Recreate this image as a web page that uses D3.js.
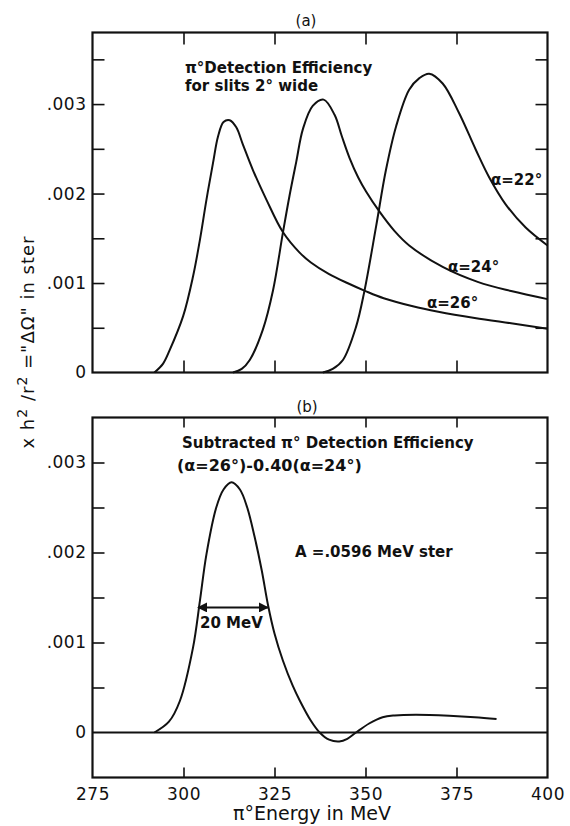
<!DOCTYPE html>
<html>
<head>
<meta charset="utf-8">
<script src="https://cdn.jsdelivr.net/npm/d3@7"></script>
<style>
	body { margin: 0; background: #fff; }
	svg text { font-family: "DejaVu Sans", sans-serif; fill: #111; }
	.note { font-weight: bold; font-size: 15px; }
</style>
</head>
<body>
<svg id="chart" width="570" height="826"></svg>
<script>
'use strict';

// energies in MeV, efficiencies in ster
var alpha26E = [292, 294.4, 296.2, 299.9, 302.6, 304.5, 306.3, 308.1, 309.5, 311, 312.7, 314.5, 316.3, 319.1, 322.8, 327.3, 331.9, 335, 340, 345, 350, 355, 363, 370, 380, 390, 400];
var alpha26V = [0, 0.0001, 0.00025, 0.00063, 0.00107, 0.00148, 0.00193, 0.00234, 0.00264, 0.0028, 0.00282, 0.00274, 0.00255, 0.00226, 0.00193, 0.00157, 0.00134, 0.00123, 0.0011, 0.001, 0.00091, 0.00083, 0.00074, 0.00068, 0.00061, 0.00055, 0.00049];

var alpha24E = [313.6, 316, 318.2, 321.8, 324.6, 327.3, 329.1, 331, 332.8, 335.5, 338.5, 341.5, 343.5, 345.6, 348, 350.2, 353.8, 358, 362, 371.2, 381, 390, 400];
var alpha24V = [0, 0.00004, 0.00014, 0.00048, 0.00092, 0.00156, 0.00197, 0.00236, 0.00272, 0.00298, 0.00305, 0.00288, 0.00264, 0.0024, 0.00218, 0.00202, 0.0018, 0.00158, 0.00142, 0.00118, 0.00101, 0.00091, 0.00082];

var alpha22E = [338.3, 341, 343.8, 347.4, 349.7, 352.9, 355.6, 358.4, 362, 364.8, 367.5, 371.2, 375.7, 380.3, 384, 388.5, 394, 400];
var alpha22V = [0, 0.00004, 0.00014, 0.00051, 0.00091, 0.00163, 0.00226, 0.00275, 0.00316, 0.00329, 0.00334, 0.00323, 0.0029, 0.00249, 0.00218, 0.00188, 0.00162, 0.00142];

// (a=26) - 0.40 (a=24)
var subE = [292, 296, 299, 302.6, 304.5, 306.3, 309, 311, 313.2, 315.5, 317.5, 319.5, 321.5, 323.2, 325, 327.3, 330, 332, 335, 337.4, 340, 342.8, 345, 347.4, 351, 354.7, 358, 363.9, 373, 380, 386];
var subV = [0, 0.00012, 0.00035, 0.00094, 0.00146, 0.00198, 0.0025, 0.0027, 0.00278, 0.0027, 0.0025, 0.00218, 0.0018, 0.00142, 0.0011, 0.0008, 0.00052, 0.00035, 0.00013, 0, -0.00008, -0.0001, -0.00007, 0, 0.0001, 0.00017, 0.00019, 0.000197, 0.000186, 0.00017, 0.00015];

var widthE = [304, 323.2];   // 20 MeV bar
var widthV = 0.00139;

var xTicks = [300, 325, 350, 375];
var xLabels = [275, 300, 325, 350, 375, 400];
var yTicksA = [0.0005, 0.001, 0.0015, 0.002, 0.0025, 0.003, 0.0035];
var yLabelsA = [0, 0.001, 0.002, 0.003];
var yTicksB = [0.0005, 0.001, 0.0015, 0.002, 0.0025, 0.003];
var yLabelsB = [0, 0.001, 0.002, 0.003];

var ink = '#111';
var svg = d3.select('#chart');

var x = d3.scaleLinear().domain([275, 400]).range([92.5, 547.5]);
var yA = d3.scaleLinear().domain([0, 0.0038]).range([372.5, 32.5]);
var yB = d3.scaleLinear().domain([-0.0005, 0.0035]).range([777.5, 417.5]);

function fmt(d) {
	return d === 0 ? '0' : d3.format('.3f')(d).replace(/^0/, '');
}

svg.append('defs').append('marker')
	.attr('id', 'head')
	.attr('viewBox', '0 0 10 10')
	.attr('refX', 9).attr('refY', 5)
	.attr('markerWidth', 5).attr('markerHeight', 5)
	.attr('orient', 'auto-start-reverse')
	.append('path')
		.attr('d', 'M0,0 L10,5 L0,10 z')
		.style('fill', ink);

function tidy(g) {
	g.select('.domain').remove();
	g.selectAll('line').style('stroke', ink).style('stroke-width', 1.6);
	g.selectAll('text').attr('font-family', null).attr('font-size', null)
		.style('font-size', '17px').style('letter-spacing', '0.5px');
}

function panel(y, yTicks, yLabels, xTickLen, withXLabels) {
	var top = y.range()[1], bottom = y.range()[0];
	var left = x.range()[0], right = x.range()[1];

	// inward ticks on all four sides
	svg.append('g').attr('transform', 'translate(' + left + ',0)')
		.call(d3.axisLeft(y).tickValues(yTicks).tickSize(-12).tickFormat(''))
		.call(tidy);
	svg.append('g').attr('transform', 'translate(' + left + ',0)')
		.call(d3.axisLeft(y).tickValues(yLabels).tickSize(0).tickPadding(6).tickFormat(fmt))
		.call(tidy);
	svg.append('g').attr('transform', 'translate(' + right + ',0)')
		.call(d3.axisRight(y).tickValues(yTicks).tickSize(-12).tickFormat(''))
		.call(tidy);
	svg.append('g').attr('transform', 'translate(0,' + top + ')')
		.call(d3.axisTop(x).tickValues(xTicks).tickSize(-xTickLen).tickFormat(''))
		.call(tidy);
	svg.append('g').attr('transform', 'translate(0,' + bottom + ')')
		.call(d3.axisBottom(x).tickValues(xTicks).tickSize(-xTickLen).tickFormat(''))
		.call(tidy);
	if (withXLabels) {
		svg.append('g').attr('transform', 'translate(0,' + bottom + ')')
			.call(d3.axisBottom(x).tickValues(xLabels).tickSize(0).tickPadding(10).tickFormat(d3.format('d')))
			.call(tidy);
	}

	svg.append('rect')
		.attr('x', left).attr('y', top)
		.attr('width', right - left).attr('height', bottom - top)
		.style('fill', 'none').style('stroke', ink).style('stroke-width', 2.2);
}

function curve(y, es, vs) {
	var line = d3.line()
		.x(function(d){return x(d[0]);})
		.y(function(d){return y(d[1]);})
		.curve(d3.curveCatmullRom.alpha(0.5));
	svg.append('path')
		.datum(d3.zip(es, vs))
		.attr('d', line)
		.style('fill', 'none')
		.style('stroke', ink)
		.style('stroke-width', 2);
}

function note(px, py, str, size) {
	return svg.append('text').attr('class', 'note')
		.attr('x', px).attr('y', py)
		.style('font-size', (size || 15) + 'px')
		.text(str);
}

// (a) efficiency for the three slit angles
panel(yA, yTicksA, yLabelsA, 12, false);
curve(yA, alpha26E, alpha26V);
curve(yA, alpha24E, alpha24V);
curve(yA, alpha22E, alpha22V);

note(185, 73, 'π°Detection Efficiency');
note(185, 91, 'for  slits 2° wide');
note(491, 185, 'α=22°');
note(448, 272, 'α=24°');
note(427, 308, 'α=26°');
svg.append('text').attr('x', 306).attr('y', 26).attr('text-anchor', 'middle')
	.style('font-size', '15px').text('(a)');

// (b) subtracted efficiency
panel(yB, yTicksB, yLabelsB, 10, true);
svg.append('line')
	.attr('x1', x(275)).attr('x2', x(400))
	.attr('y1', yB(0)).attr('y2', yB(0))
	.style('stroke', ink).style('stroke-width', 1.8);
curve(yB, subE, subV);

svg.append('line')
	.attr('x1', x(widthE[0])).attr('x2', x(widthE[1]))
	.attr('y1', yB(widthV)).attr('y2', yB(widthV))
	.attr('marker-start', 'url(#head)').attr('marker-end', 'url(#head)')
	.style('stroke', ink).style('stroke-width', 2);

note(182, 448, 'Subtracted π° Detection Efficiency');
note(177, 471, '(α=26°)-0.40(α=24°)', 16);
note(295, 557, 'A =.0596 MeV ster');
note(200, 628, '20 MeV');
svg.append('text').attr('x', 307).attr('y', 412).attr('text-anchor', 'middle')
	.style('font-size', '15px').text('(b)');

// shared axis titles
svg.append('text')
	.attr('x', 312).attr('y', 820).attr('text-anchor', 'middle')
	.style('font-size', '19px')
	.text('π°Energy in MeV');

var ylab = svg.append('text')
	.attr('transform', 'translate(34,342) rotate(-90)')
	.attr('text-anchor', 'middle')
	.style('font-size', '18px').style('letter-spacing', '1px');
ylab.append('tspan').text('x h');
ylab.append('tspan').attr('dy', -7).style('font-size', '14px').text('2');
ylab.append('tspan').attr('dy', 7).text(' /r');
ylab.append('tspan').attr('dy', -7).style('font-size', '14px').text('2');
ylab.append('tspan').attr('dy', 7).text(' ="ΔΩ" in ster');
</script>
</body>
</html>
